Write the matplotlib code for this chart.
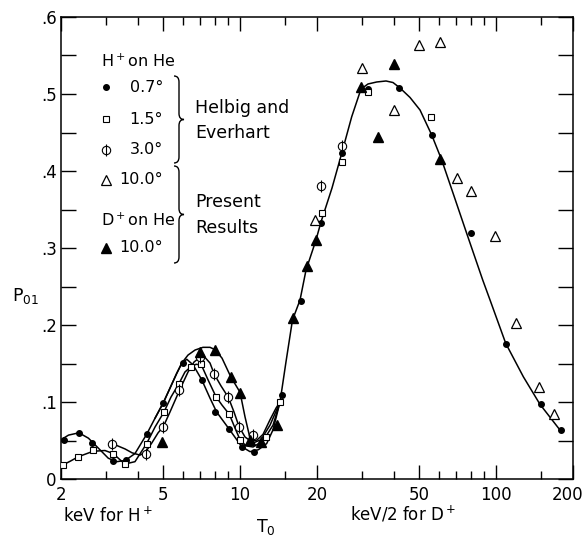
import matplotlib.pyplot as plt
import numpy as np
from matplotlib.lines import Line2D
from matplotlib.path import Path
from matplotlib.patches import PathPatch
from matplotlib.transforms import ScaledTranslation

plt.rcParams['font.family'] = 'DejaVu Sans'
plt.rcParams['mathtext.default'] = 'regular'

# --- curves (energy T0, probability P01) ---
c07_x = [2.0, 2.14, 2.35, 2.56, 2.80, 3.06, 3.30, 3.56, 3.89, 4.32, 4.66, 5.02, 5.66, 5.92, 6.20,
         6.57, 7.09, 7.64, 8.11, 9.09, 10.16, 10.95, 11.8, 12.72, 13.47, 14.34]
c07_y = [0.051, 0.057, 0.060, 0.053, 0.040, 0.027, 0.0225, 0.024, 0.033, 0.058, 0.079, 0.099, 0.137,
         0.150, 0.1555, 0.148, 0.129, 0.105, 0.087, 0.0645, 0.042, 0.0355, 0.038, 0.046, 0.064, 0.100]

c15_x = [2.0, 2.17, 2.34, 2.67, 2.97, 3.20, 3.40, 3.56, 3.89, 4.32, 4.66, 5.05, 5.38, 5.78, 6.10,
         6.44, 6.74, 7.07, 7.50, 8.06, 8.51, 9.09, 9.57, 10.01, 10.56, 11.25, 11.98, 12.61, 13.47, 14.34]
c15_y = [0.017, 0.023, 0.029, 0.036, 0.037, 0.033, 0.025, 0.0195, 0.0225, 0.046, 0.0675, 0.087, 0.1065,
         0.124, 0.139, 0.146, 0.149, 0.148, 0.129, 0.107, 0.096, 0.084, 0.066, 0.051, 0.043, 0.0416,
         0.047, 0.055, 0.070, 0.100]

c30_x = [3.17, 3.56, 3.79, 4.07, 4.28, 4.53, 4.79, 5.02, 5.33, 5.83, 6.27, 6.62, 6.98, 7.30, 7.64,
         7.94, 8.43, 9.01, 9.48, 9.92, 10.47, 11.05, 11.66, 12.31, 13.11, 13.83, 14.34]
c30_y = [0.046, 0.039, 0.034, 0.031, 0.035, 0.047, 0.060, 0.068, 0.087, 0.1165, 0.139, 0.152, 0.158,
         0.158, 0.1506, 0.136, 0.121, 0.106, 0.087, 0.068, 0.0545, 0.049, 0.0506, 0.058, 0.077, 0.092, 0.100]

c10d_x = [4.66, 5.02, 5.66, 5.94, 6.27, 6.68, 7.17, 7.64, 7.99, 8.51, 9.20, 10.01, 10.47, 10.95,
          11.3, 12.09, 13.11, 14.34]
c10d_y = [0.079, 0.099, 0.137, 0.151, 0.161, 0.1675, 0.171, 0.171, 0.168, 0.157, 0.133, 0.1126,
          0.0805, 0.053, 0.047, 0.051, 0.070, 0.100]

main_x = [14.34, 15.13, 16.04, 17.17, 18.12, 19.82, 20.73, 22.89, 24.98, 27.33, 29.71, 31.64, 34.22,
          37.21, 39.62, 42.2, 46.17, 50.52, 56.12, 61.4, 68.59, 76.62, 88.8, 94.82, 109.2, 127.9,
          148.6, 177.9]
main_y = [0.100, 0.152, 0.2065, 0.2325, 0.2714, 0.3104, 0.3338, 0.3779, 0.423, 0.4705, 0.5065, 0.513,
          0.5156, 0.5169, 0.5149, 0.5078, 0.4955, 0.4792, 0.4468, 0.4143, 0.3675, 0.3204, 0.2584,
          0.2325, 0.1762, 0.1329, 0.097, 0.0636]

# --- data points ---
dot_x = [2.06, 2.35, 2.65, 3.20, 3.59, 4.32, 5.02, 5.99, 7.09, 7.99, 9.09, 10.16, 11.35,
         14.56, 17.26, 20.73, 24.98, 31.56, 41.93, 56.1, 79.9, 109.2, 149.6, 179.0]
dot_y = [0.0506, 0.060, 0.047, 0.023, 0.025, 0.058, 0.099, 0.151, 0.129, 0.087, 0.065, 0.042, 0.035,
         0.109, 0.2316, 0.333, 0.423, 0.507, 0.508, 0.447, 0.320, 0.175, 0.097, 0.064]

sq_x = [2.04, 2.34, 2.67, 3.18, 3.56, 4.32, 5.05, 5.78, 6.44, 7.07, 8.06, 9.09, 10.0, 12.61,
        14.34, 20.98, 25.11, 31.56, 55.8]
sq_y = [0.018, 0.029, 0.038, 0.032, 0.019, 0.046, 0.087, 0.124, 0.146, 0.149, 0.107, 0.084, 0.051,
        0.055, 0.100, 0.346, 0.412, 0.502, 0.4705]

phi_x = [3.17, 4.28, 5.02, 5.78, 6.98, 7.94, 9.0, 9.92, 11.28, 20.73, 24.98]
phi_y = [0.046, 0.033, 0.068, 0.116, 0.159, 0.136, 0.106, 0.068, 0.057, 0.381, 0.432]

otri_x = [19.64, 30.06, 39.98, 50.2, 60.6, 70.5, 79.7, 99.2, 119.8, 147.3, 168.6]
otri_y = [0.336, 0.534, 0.479, 0.564, 0.568, 0.391, 0.374, 0.315, 0.202, 0.120, 0.085]

ftri_x = [4.97, 7.0, 7.99, 9.2, 10.05, 10.95, 12.09, 14.0, 16.1, 18.2, 19.8, 29.7, 34.7, 39.98, 60.6]
ftri_y = [0.048, 0.165, 0.168, 0.133, 0.112, 0.051, 0.048, 0.070, 0.209, 0.276, 0.311, 0.509, 0.444,
          0.539, 0.416]

xmajor = [2, 5, 10, 20, 50, 100, 200]
xmajor_labels = ['2', '5', '10', '20', '50', '100', '200']
xminor = [3, 4, 6, 7, 8, 9, 15, 30, 40, 60, 70, 80, 90, 150]
ymajor = [0, 0.1, 0.2, 0.3, 0.4, 0.5, 0.6]
ymajor_labels = ['0', '.1', '.2', '.3', '.4', '.5', '.6']
yminor = [0.05, 0.15, 0.25, 0.35, 0.45, 0.55]

W, H = 587, 537
fig = plt.figure(figsize=(W / 100, H / 100), dpi=100)
ax = fig.add_axes([61 / W, 1 - 479 / H, 512 / W, 462 / H])


def fpx(x, y):
    # pixel position in the figure -> figure fraction
    return x / W, 1 - y / H


for cx, cy in [(c07_x, c07_y), (c15_x, c15_y), (c30_x, c30_y), (c10d_x, c10d_y), (main_x, main_y)]:
    ax.plot(cx, cy, color='black', lw=1.1, zorder=2)

ax.plot(dot_x, dot_y, 'o', ms=4, color='black', ls='none', zorder=4)
ax.plot(sq_x, sq_y, 's', ms=4.5, mfc='white', mec='black', mew=0.8, ls='none', zorder=4)
ax.plot(phi_x, phi_y, 'o', ms=6, mfc='white', mec='black', mew=0.8, ls='none', zorder=4)
ax.plot(phi_x, phi_y, '|', ms=9, mec='black', mew=0.8, ls='none', zorder=5)
ax.plot(otri_x, otri_y, '^', ms=6.5, mfc='white', mec='black', mew=0.9, ls='none', zorder=4)
ax.plot(ftri_x, ftri_y, '^', ms=6.5, color='black', ls='none', zorder=4)

ax.set_xscale('log')
ax.set_xlim(2, 200)
ax.set_ylim(0, 0.6)
ax.set_xticks(xmajor)
ax.set_xticklabels(xmajor_labels)
ax.set_xticks(xminor, minor=True)
ax.set_xticklabels([], minor=True)
ax.set_yticks(ymajor)
ax.set_yticklabels(ymajor_labels)
ax.set_yticks(yminor, minor=True)

ax.tick_params(which='both', direction='in', top=True, right=True, width=1, labelsize=12)
ax.tick_params(axis='x', which='major', length=10, pad=5)
ax.tick_params(axis='x', which='minor', length=5.5)
ax.tick_params(axis='y', which='both', length=11, pad=3)
for s in ax.spines.values():
    s.set_linewidth(1.1)

# keep "200" inside the figure like the original
lab200 = ax.get_xticklabels()[-1]
lab200.set_transform(lab200.get_transform() + ScaledTranslation(-4 / 72, 0, fig.dpi_scale_trans))

# axis captions
fig.text(*fpx(108, 516), 'keV for H$^+$', fontsize=12, ha='center', va='center')
fig.text(*fpx(403, 514), 'keV/2 for D$^+$', fontsize=12, ha='center', va='center')
fig.text(*fpx(266, 527), 'T$_0$', fontsize=12.5, ha='center', va='center')
fig.text(*fpx(26, 296), 'P$_{01}$', fontsize=12.5, ha='center', va='center')

# legend block
fig.text(*fpx(101, 61), 'H$^+$on He', fontsize=11.5, ha='left', va='center')
fig.text(*fpx(101, 220), 'D$^+$on He', fontsize=11.5, ha='left', va='center')

leg = [
    (87, '0.7°', dict(marker='o', ms=4, color='black')),
    (119, '1.5°', dict(marker='s', ms=4.5, mfc='white', mec='black', mew=0.8)),
    (150, '3.0°', dict(marker='o', ms=6, mfc='white', mec='black', mew=0.8)),
    (180, '10.0°', dict(marker='^', ms=6.5, mfc='white', mec='black', mew=0.9)),
    (248, '10.0°', dict(marker='^', ms=6.5, color='black')),
]
for yy, lab, st in leg:
    mx, my = fpx(106, yy)
    fig.add_artist(Line2D([mx], [my], ls='none', transform=fig.transFigure, **st))
    fig.text(*fpx(163, yy), lab, fontsize=11.5, ha='right', va='center')
mx, my = fpx(106, 150)
fig.add_artist(Line2D([mx], [my], ls='none', marker='|', ms=9, mec='black', mew=0.8,
                      transform=fig.transFigure))


def brace(x_left, x_mid, x_tip, y_top, y_bot, r=6):
    ym = (y_top + y_bot) / 2
    pts = [(x_left, y_top), (x_mid, y_top), (x_mid, y_top + r),
           (x_mid, ym - r), (x_mid, ym), (x_tip, ym),
           (x_mid, ym), (x_mid, ym + r),
           (x_mid, y_bot - r), (x_mid, y_bot), (x_left, y_bot)]
    codes = [Path.MOVETO, Path.CURVE3, Path.CURVE3,
             Path.LINETO, Path.CURVE3, Path.CURVE3,
             Path.CURVE3, Path.CURVE3,
             Path.LINETO, Path.CURVE3, Path.CURVE3]
    verts = [fpx(px, py) for px, py in pts]
    fig.add_artist(PathPatch(Path(verts, codes), fill=False, lw=1.0, ec='black',
                             transform=fig.transFigure))


brace(174, 179, 184, 76, 163)
brace(174, 179, 184, 166, 263)

fig.text(*fpx(195, 108), 'Helbig and', fontsize=12.5, ha='left', va='center')
fig.text(*fpx(195, 133), 'Everhart', fontsize=12.5, ha='left', va='center')
fig.text(*fpx(195, 202), 'Present', fontsize=12.5, ha='left', va='center')
fig.text(*fpx(195, 228), 'Results', fontsize=12.5, ha='left', va='center')

fig.savefig('out.png', dpi=100)
